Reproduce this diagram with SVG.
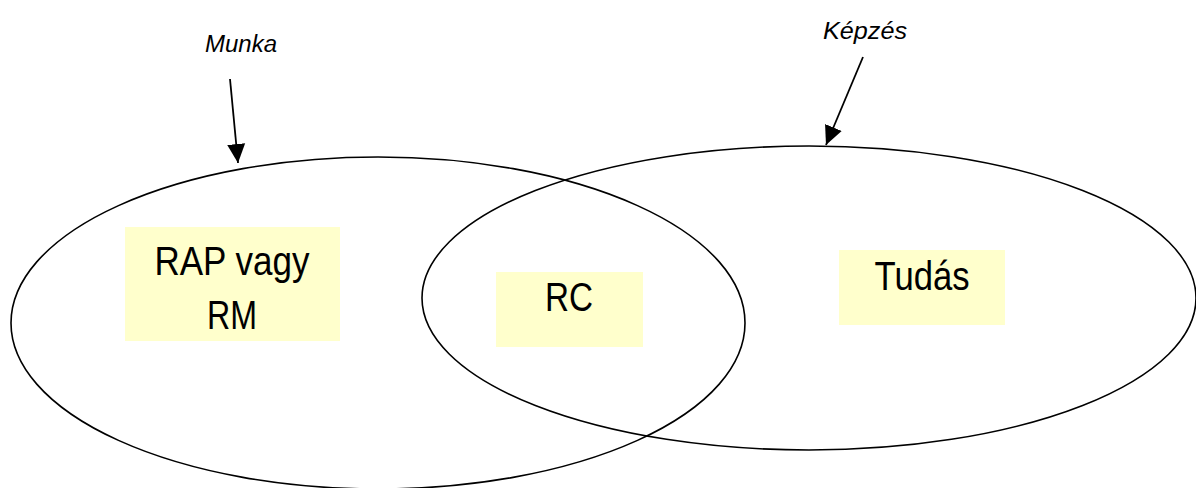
<svg xmlns="http://www.w3.org/2000/svg" width="1196" height="488" viewBox="0 0 1196 488">
<style>
.ell{fill:none;stroke:#000;stroke-width:1.6}
.box{fill:#FFFFCC}
.t{font-family:"Liberation Sans",Arial,sans-serif;font-size:40px;fill:#000}
.lbl{font-family:"Liberation Sans",Arial,sans-serif;font-size:23px;font-style:italic;fill:#000}
.con{stroke:#000;stroke-width:1.8;fill:none}
</style>
<defs>
<marker id="ah" markerUnits="userSpaceOnUse" markerWidth="20" markerHeight="20" refX="19" refY="9" orient="auto" viewBox="0 0 20 18">
<path d="M0,0 L19,9 L0,18 z" fill="#000"/>
</marker>
</defs>
<g id="ellipse-munka"><ellipse class="ell" cx="378" cy="323" rx="367" ry="166"/></g>
<g id="ellipse-kepzes"><ellipse class="ell" cx="809" cy="298" rx="387" ry="152"/></g>
<g id="node-rap">
<rect class="box" x="125" y="227" width="215" height="114"/>
<text class="t" x="232" y="275" text-anchor="middle" textLength="155" lengthAdjust="spacingAndGlyphs">RAP vagy</text>
<text class="t" x="232" y="329" text-anchor="middle" textLength="50" lengthAdjust="spacingAndGlyphs">RM</text>
</g>
<g id="node-rc">
<rect class="box" x="496" y="272" width="147" height="75"/>
<text class="t" x="569" y="311" text-anchor="middle" textLength="48" lengthAdjust="spacingAndGlyphs">RC</text>
</g>
<g id="node-tudas">
<rect class="box" x="839" y="250" width="166" height="75"/>
<text class="t" x="922" y="290" text-anchor="middle" textLength="95" lengthAdjust="spacingAndGlyphs">Tudás</text>
</g>
<g id="node-munka"><text class="lbl" x="241" y="52" text-anchor="middle" textLength="72" lengthAdjust="spacingAndGlyphs">Munka</text></g>
<g id="node-kepzes-label"><text class="lbl" x="865" y="39" text-anchor="middle" textLength="84" lengthAdjust="spacingAndGlyphs">Képzés</text></g>
<g id="connectors">
<line class="con" x1="230" y1="79" x2="238" y2="163" marker-end="url(#ah)"/>
<line class="con" x1="863" y1="57" x2="826" y2="145" marker-end="url(#ah)"/>
</g>
</svg>
